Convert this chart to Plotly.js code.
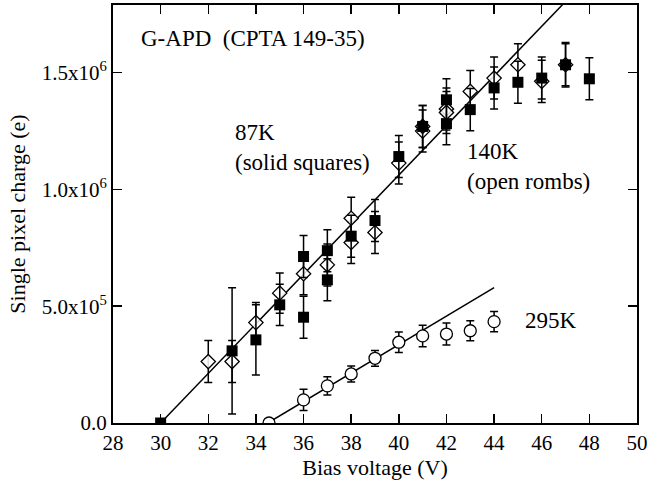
<!DOCTYPE html>
<html>
<head>
<meta charset="utf-8">
<script src="https://cdn.plot.ly/plotly-3.0.1.min.js"></script>
<style>html,body{margin:0;padding:0;background:#fff;}#chart{width:650px;height:486px;}</style>
</head>
<body>
<div id="chart"></div>
<script>
// 87K solid squares
const sq87X = [30, 33, 34, 35, 36, 36, 37, 37, 38, 39, 40, 41, 42, 42, 43, 44, 45, 46, 47, 48];
const sq87Y = [0, 0.309e6, 0.356e6, 0.506e6, 0.713e6, 0.453e6, 0.738e6, 0.613e6, 0.80e6, 0.867e6, 1.141e6, 1.27e6, 1.384e6, 1.282e6, 1.342e6, 1.435e6, 1.459e6, 1.477e6, 1.534e6, 1.474e6];
const sq87Err = [0, 0.27e6, 0.15e6, 0.088e6, 0.09e6, 0.09e6, 0.09e6, 0.09e6, 0.09e6, 0.09e6, 0.09e6, 0.09e6, 0.09e6, 0.09e6, 0.09e6, 0.09e6, 0.09e6, 0.09e6, 0.095e6, 0.09e6];

// 140K open rombs
const rb140X = [32, 33, 34, 35, 36, 37, 38, 38, 39, 40, 41, 41, 42, 42, 43, 44, 45, 46, 47];
const rb140Y = [0.263e6, 0.263e6, 0.43e6, 0.556e6, 0.639e6, 0.677e6, 0.877e6, 0.773e6, 0.816e6, 1.113e6, 1.25e6, 1.27e6, 1.345e6, 1.33e6, 1.42e6, 1.477e6, 1.534e6, 1.463e6, 1.534e6];
const rb140Err = [0.09e6, 0.09e6, 0.086e6, 0.086e6, 0.09e6, 0.09e6, 0.09e6, 0.09e6, 0.09e6, 0.09e6, 0.09e6, 0.09e6, 0.09e6, 0.09e6, 0.09e6, 0.09e6, 0.09e6, 0.09e6, 0.09e6];

// 295K open circles
const c295X = [34.55, 36, 37, 38, 39, 40, 41, 42, 43, 44];
const c295Y = [0, 0.099e6, 0.159e6, 0.21e6, 0.277e6, 0.346e6, 0.373e6, 0.381e6, 0.395e6, 0.434e6];
const c295Err = [0, 0.045e6, 0.039e6, 0.034e6, 0.034e6, 0.044e6, 0.046e6, 0.047e6, 0.043e6, 0.043e6];

// linear fits
const fitLowX = [30, 47];
const fitLowY = [0, 1.805e6];
const fit295X = [34.5, 44];
const fit295Y = [0, 0.58e6];

// axis ticks
const yTickVals = [0, 0.5e6, 1.0e6, 1.5e6];
const yTickText = ['0.0', '5.0x10<sup>5</sup>', '1.0x10<sup>6</sup>', '1.5x10<sup>6</sup>'];

const FONT = '"Liberation Serif"';
const errStyle = (arr) => ({type: 'data', array: arr, visible: true, color: '#000', thickness: 1.5, width: 4});

const traces = [
  {x: fitLowX, y: fitLowY, mode: 'lines', line: {color: '#000', width: 1.5}, hoverinfo: 'skip'},
  {x: fit295X, y: fit295Y, mode: 'lines', line: {color: '#000', width: 1.5}, hoverinfo: 'skip'},
  {x: c295X, y: c295Y, mode: 'markers', error_y: errStyle(c295Err),
   marker: {symbol: 'circle', size: 12, color: '#fff', line: {color: '#000', width: 1.3}}},
  {x: rb140X, y: rb140Y, mode: 'markers', error_y: errStyle(rb140Err),
   marker: {symbol: 'diamond', size: 11, color: 'rgba(255,255,255,0.85)', line: {color: '#000', width: 1.3}}},
  {x: sq87X, y: sq87Y, mode: 'markers', error_y: errStyle(sq87Err),
   marker: {symbol: 'square', size: 11, color: '#000', line: {color: '#000', width: 0}}}
];

const axisCommon = {
  showline: true, linecolor: '#000', linewidth: 2, mirror: 'ticks',
  ticks: 'inside', ticklen: 9, tickwidth: 1.5, tickcolor: '#000',
  showgrid: false, zeroline: false,
  tickfont: {family: FONT, size: 21, color: '#000'}
};

const layout = {
  width: 650, height: 486,
  margin: {l: 113, r: 13, t: 5, b: 63},
  paper_bgcolor: '#fff', plot_bgcolor: '#fff',
  showlegend: false,
  font: {family: FONT, color: '#000'},
  xaxis: Object.assign({}, axisCommon, {
    range: [28, 50], tick0: 28, dtick: 2,
    title: {text: 'Bias voltage (V)', font: {family: FONT, size: 22, color: '#000'}, standoff: 4}
  }),
  yaxis: Object.assign({}, axisCommon, {
    range: [0, 1.79e6], tickmode: 'array', tickvals: yTickVals, ticktext: yTickText,
    title: {text: 'Single pixel charge (e)', font: {family: FONT, size: 22, color: '#000'}, standoff: 10}
  }),
  annotations: [
    {x: 29.09, y: 1.646e6, xref: 'x', yref: 'y', xanchor: 'left', yanchor: 'middle', showarrow: false,
     text: 'G-APD&nbsp; (CPTA 149-35)', font: {family: FONT, size: 23, color: '#000'}},
    {x: 33.04, y: 1.179e6, xref: 'x', yref: 'y', xanchor: 'left', yanchor: 'middle', align: 'left', showarrow: false,
     text: '87K<br>(solid squares)', font: {family: FONT, size: 23, color: '#000'}},
    {x: 42.78, y: 1.097e6, xref: 'x', yref: 'y', xanchor: 'left', yanchor: 'middle', align: 'left', showarrow: false,
     text: '140K<br>(open rombs)', font: {family: FONT, size: 23, color: '#000'}},
    {x: 45.21, y: 0.437e6, xref: 'x', yref: 'y', xanchor: 'left', yanchor: 'middle', showarrow: false,
     text: '295K', font: {family: FONT, size: 23, color: '#000'}}
  ]
};

Plotly.newPlot('chart', traces, layout, {staticPlot: true, displayModeBar: false});
</script>
</body>
</html>
